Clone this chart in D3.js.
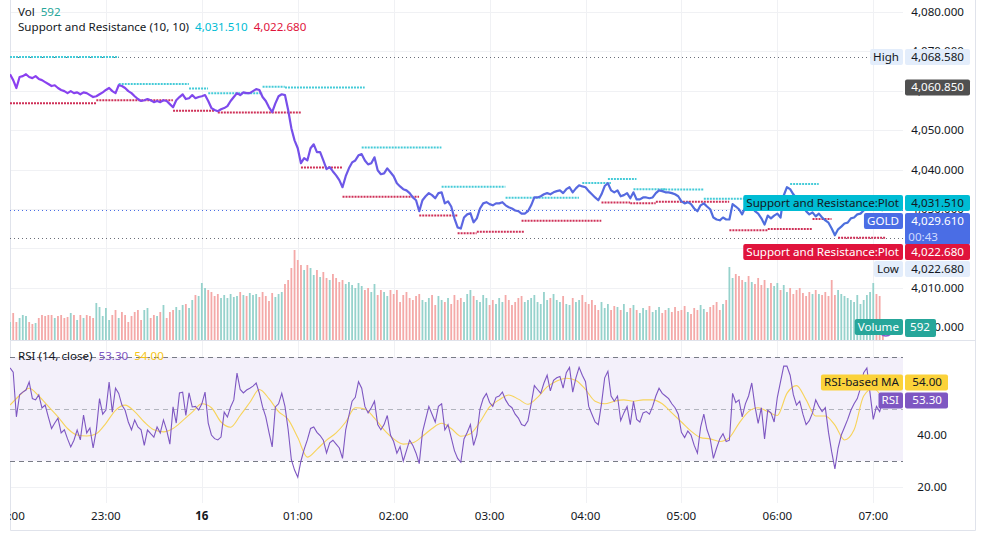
<!DOCTYPE html>
<html lang="en">
<head>
  <meta charset="UTF-8">
  <title>GOLD 2m</title>
  <script src="https://cdn.jsdelivr.net/npm/d3@7/dist/d3.min.js"></script>
  <style>
    body { margin: 0; background: #fff; }
    svg { display: block; font-family: 'Noto Sans', 'Liberation Sans', sans-serif; }
  </style>
</head>
<body>
  <svg id="chart" width="985" height="537"></svg>
  <script>
    // 2 minute bars starting 22:00
    const barMinutes = 2;

    const closes = [
      4064.2, 4062.7, 4060.7, 4063.5, 4063.7, 4064.2, 4063.5, 4063.2, 4063.7, 4063.0,
      4062.7, 4062.2, 4061.7, 4061.2, 4061.4, 4060.7, 4060.2, 4059.9, 4059.4, 4059.9,
      4059.4, 4059.6, 4059.1, 4059.6, 4059.4, 4058.9, 4058.4, 4058.6, 4059.1, 4059.6,
      4060.2, 4060.7, 4059.9, 4059.4, 4061.4, 4061.2, 4060.7, 4059.9, 4059.4, 4058.6,
      4057.9, 4057.4, 4057.6, 4057.9, 4057.6, 4057.1, 4057.4, 4057.1, 4057.6, 4057.4,
      4056.6, 4055.8, 4057.6, 4058.4, 4059.1, 4057.9, 4058.1, 4058.9, 4058.1, 4058.4,
      4058.6, 4058.9, 4057.4, 4055.6, 4055.1, 4054.8, 4055.3, 4055.6, 4056.1, 4057.4,
      4058.4, 4059.4, 4058.9, 4059.6, 4059.4, 4059.4, 4059.9, 4060.4, 4060.2, 4058.4,
      4057.4, 4055.8, 4054.6, 4056.8, 4058.6, 4059.1, 4058.9, 4055.1, 4050.5, 4047.4,
      4045.4, 4041.6, 4042.9, 4042.3, 4045.4, 4046.4, 4044.4, 4044.4, 4042.3, 4040.1,
      4040.6, 4039.5, 4038.5, 4037.3, 4035.5, 4038.3, 4040.3, 4041.8, 4042.3, 4043.6,
      4043.9, 4042.3, 4041.3, 4041.6, 4043.1, 4039.8, 4038.8, 4039.0, 4040.3, 4039.3,
      4038.3, 4036.5, 4035.7, 4035.0, 4034.7, 4034.0, 4032.9, 4032.2, 4029.4, 4032.2,
      4033.2, 4034.0, 4033.5, 4032.7, 4034.0, 4034.2, 4031.4, 4031.9, 4030.6, 4027.6,
      4025.3, 4025.0, 4027.8, 4028.6, 4028.9, 4026.6, 4027.6, 4030.1, 4031.4, 4031.7,
      4031.2, 4030.9, 4031.4, 4031.4, 4031.7, 4030.9, 4030.4, 4030.1, 4029.6, 4029.4,
      4028.8, 4028.8, 4029.4, 4030.9, 4032.9, 4032.9, 4033.2, 4033.7, 4034.0, 4033.7,
      4034.2, 4034.5, 4034.7, 4034.0, 4035.0, 4035.5, 4034.2, 4035.2, 4036.0, 4035.7,
      4035.5, 4034.5, 4033.7, 4032.9, 4032.2, 4033.7, 4035.8, 4036.5, 4034.7, 4034.2,
      4034.7, 4033.2, 4033.5, 4034.0, 4032.7, 4034.2, 4032.4, 4032.4, 4032.9, 4032.9,
      4032.7, 4032.9, 4034.0, 4034.7, 4034.5, 4034.2, 4034.2, 4034.0, 4033.7, 4033.2,
      4031.9, 4031.4, 4031.7, 4031.2, 4030.1, 4029.4, 4030.9, 4031.4, 4030.6, 4029.9,
      4027.8, 4027.3, 4027.1, 4027.8, 4027.3, 4027.3, 4031.2, 4030.6, 4029.9, 4028.6,
      4030.4, 4030.1, 4030.9, 4029.4, 4028.8, 4027.6, 4026.0, 4028.3, 4027.6, 4028.3,
      4028.8, 4027.8, 4033.4, 4035.5, 4035.0, 4033.7, 4032.7, 4031.4, 4030.6, 4029.4,
      4028.6, 4029.1, 4028.1, 4028.8, 4027.8, 4027.1, 4026.5, 4025.0, 4023.3, 4024.8,
      4025.5, 4026.3, 4026.5, 4027.6, 4027.8, 4028.6, 4028.8, 4029.6, 4030.4, 4030.9,
      4031.4, 4030.6, 4029.9, 4029.61
    ];

    const volumes = [
      540, 810, 540, 660, 750, 720, 540, 480, 510, 660,
      750, 720, 750, 750, 660, 720, 750, 660, 690, 810,
      750, 600, 750, 660, 750, 720, 660, 1110, 990, 720,
      960, 600, 750, 900, 660, 840, 750, 540, 720, 840,
      900, 600, 900, 960, 660, 750, 720, 840, 1050, 660,
      840, 900, 990, 900, 1050, 1080, 960, 1200, 1350, 1320,
      1710, 1560, 1500, 1440, 1320, 1380, 1260, 1350, 1260, 1380,
      1290, 1320, 1440, 1350, 1320, 1410, 1350, 1380, 1290, 1440,
      1320, 1170, 1410, 1290, 1380, 1440, 1680, 1800, 2160, 2700,
      2400, 2250, 2100, 2250, 2160, 1950, 2100, 1890, 2040, 1860,
      1800, 1980, 1860, 1740, 1800, 1680, 1740, 1650, 1560, 1710,
      1620, 1500, 1560, 1440, 1680, 1350, 1500, 1440, 1320, 1500,
      1380, 1500, 1140, 1350, 1440, 1260, 1200, 1320, 1380, 1200,
      1140, 1260, 1350, 1050, 1320, 1200, 1140, 1260, 1080, 1350,
      1200, 1260, 1140, 1380, 1500, 1320, 1200, 1140, 1350, 1260,
      1050, 1200, 1080, 1260, 1140, 1350, 1200, 1050, 1140, 1260,
      1320, 1140, 1200, 1260, 1350, 1140, 1080, 1440, 1200, 1260,
      1380, 1200, 1140, 1320, 1080, 1050, 1260, 1140, 1200, 1350,
      1140, 1080, 1200, 1050, 900, 1140, 960, 1080, 900, 1020,
      990, 900, 1080, 840, 960, 1050, 900, 810, 960, 900,
      1020, 840, 900, 990, 810, 900, 960, 840, 990, 870,
      900, 1020, 840, 780, 960, 900, 1050, 930, 840, 990,
      1050, 1140, 900, 1080, 1200, 2190, 1860, 1980, 1920, 1800,
      1740, 1920, 1740, 1680, 1860, 1650, 1800, 1560, 1710, 1620,
      1710, 1500, 1650, 1440, 1560, 1380, 1500, 1560, 1410, 1320,
      1440, 1380, 1500, 1380, 1350, 1440, 1320, 1800, 1350, 1500,
      1380, 1320, 1260, 1200, 1140, 1350, 1080, 1200, 1350, 1440,
      1710, 1380, 1320, 592
    ];

    const rsi = [
      65.8, 64.2, 47.0, 55.5, 56.5, 57.3, 60.4, 54.0, 53.5, 55.4,
      50.4, 51.5, 46.9, 42.5, 44.6, 46.5, 40.8, 42.0, 38.5, 35.4,
      38.0, 41.9, 38.1, 47.7, 40.8, 42.7, 35.0, 41.9, 54.0, 48.0,
      49.6, 60.4, 48.8, 58.0, 56.0, 51.5, 49.5, 45.0, 42.0, 45.8,
      43.1, 42.0, 36.0, 41.9, 40.5, 39.2, 43.1, 40.8, 45.8, 41.9,
      36.5, 50.8, 44.6, 56.2, 56.5, 47.5, 56.2, 50.8, 51.0, 49.6,
      52.0, 56.5, 44.6, 40.0, 38.6, 38.1, 39.2, 48.8, 46.9, 50.8,
      53.5, 63.8, 57.5, 56.2, 57.3, 58.0, 58.8, 60.0, 56.0, 50.8,
      47.0, 41.0, 35.4, 50.8, 52.0, 56.0, 51.0, 42.0, 30.5, 26.5,
      23.8, 30.0, 34.5, 38.1, 42.5, 43.1, 41.0, 39.8, 38.0, 33.1,
      37.0, 38.0, 36.5, 35.0, 31.0, 42.0, 47.5, 53.0, 54.5, 60.5,
      58.0, 51.0, 48.5, 50.5, 53.0, 44.0, 42.0, 44.0, 47.5, 40.0,
      37.5, 33.0, 35.5, 30.0, 34.0, 38.0, 36.0, 33.0, 29.0, 41.0,
      46.0, 51.0, 48.0, 45.0, 51.0, 52.0, 42.0, 44.0, 39.0, 34.0,
      31.0, 29.5, 38.5, 41.0, 44.0, 36.0, 40.0, 50.0, 54.0, 56.0,
      52.5, 51.0, 54.5, 55.0, 56.5, 53.5, 51.5, 50.5, 48.0, 46.5,
      44.0, 43.5, 45.5, 52.0, 59.0, 57.5, 56.0, 60.0, 63.0, 57.0,
      61.0, 62.0, 62.5, 58.0, 64.0, 66.0, 56.5, 62.0, 66.0, 63.0,
      60.5, 51.0, 48.0, 45.0, 44.0, 52.0, 62.0, 64.5, 55.0, 53.0,
      55.0, 45.5, 48.5, 51.0, 44.0, 53.0, 46.0, 45.0, 48.5, 49.0,
      48.0, 51.0, 55.0, 58.0, 56.0, 55.0, 54.0, 52.0, 50.5, 48.0,
      41.0, 39.0, 41.5, 40.0, 36.0, 33.0, 43.0, 48.0, 42.0, 38.5,
      31.0, 35.0, 38.5, 40.5, 37.5, 38.0, 56.0, 52.5, 53.5, 47.0,
      52.0, 55.0, 60.0, 51.0, 44.5, 50.5, 38.5, 49.5, 48.5, 45.0,
      54.5, 60.5, 66.5, 66.5, 63.0, 55.5, 51.5, 53.0, 48.0, 44.0,
      45.5, 48.5, 53.5, 51.0, 49.0, 50.5, 41.0, 33.5, 27.0, 35.0,
      40.0, 43.0, 46.0, 49.5, 52.0, 54.0, 58.0, 64.0, 65.8, 56.0,
      46.0, 51.0, 49.0, 53.3
    ];

    // RSI-based MA, read every 3rd bar
    const maStep = 3;
    const rsiMa = [
      51.5, 55.2, 58.0, 55.0, 51.0, 47.0, 42.5, 40.0, 39.6, 40.5,
      44.5, 49.5, 51.5, 49.0, 45.0, 42.0, 41.2, 42.5, 45.5, 48.8,
      52.0, 50.5, 45.0, 43.0, 47.5, 52.5, 57.5, 54.0, 49.0, 46.0,
      39.0, 31.5, 34.5, 38.0, 40.8, 45.0, 50.5, 50.0, 46.5, 42.0,
      38.5, 36.5, 37.0, 39.5, 42.5, 44.5, 42.5, 39.5, 40.5, 45.0,
      50.8, 53.5, 55.4, 53.8, 51.8, 54.5, 58.5, 60.8, 61.8, 61.0,
      57.5, 53.0, 52.0, 53.0, 53.5, 53.0, 53.5, 53.5, 52.0, 48.5,
      45.0, 41.5, 39.0, 38.5, 37.5, 39.0, 44.5, 49.0, 50.5, 49.0,
      47.5, 56.0, 59.0, 53.5, 47.3, 47.3, 43.8, 38.1, 42.0, 55.0,
      58.0, 54.0
    ];

    // [first bar, last bar, level]
    const resistance = [
      [0, 33, 4068.58], [34, 55, 4061.7], [56, 61, 4060.6], [62, 78, 4059.35],
      [79, 85, 4061.0], [86, 110, 4060.8], [110, 134, 4045.6], [135, 154, 4035.6],
      [155, 177, 4032.8], [179, 187, 4036.6], [187, 195, 4037.6], [195, 204, 4035.0],
      [204, 216, 4034.9], [217, 243, 4032.6], [244, 252, 4036.3], [253, 273, 4031.51]
    ];
    const support = [
      [0, 26, 4056.8], [27, 50, 4057.6], [51, 63, 4054.9], [65, 90, 4054.5],
      [91, 103, 4040.5], [104, 127, 4033.1], [128, 139, 4028.3], [140, 145, 4023.8],
      [146, 160, 4024.2], [160, 184, 4027.0], [185, 193, 4031.6], [194, 201, 4031.4],
      [202, 224, 4031.8], [225, 236, 4024.6], [237, 250, 4024.9], [251, 256, 4027.4],
      [259, 273, 4022.68]
    ];

    const priceTicks = [4000, 4010, 4020, 4030, 4040, 4050, 4060, 4070, 4080];
    const rsiTicks = [20, 40, 60];
    const rsiBands = [70, 50, 30];
    const high = 4068.58, low = 4022.68, lastMark = 4060.85;
    const countdown = '00:43';

    (() => {
      const svg = d3.select('#chart');
      const left = 10, right = 903, frameRight = 975, frameBottom = 530;
      const split = 340, rsiBottom = 503;
      const fs = 11.6;
      const fmtP = d3.format(',.3f'), fmtR = d3.format('.2f'), fmtV = d3.format('d');

      const t0 = new Date(2025, 9, 15, 22, 0);
      const barTime = i => new Date(t0.getTime() + i * barMinutes * 60000);
      const x = d3.scaleTime()
        .domain([t0, new Date(t0.getTime() + 558.6 * 60000)])
        .range([left, right]);
      const yP = d3.scaleLinear().domain([4000, 4080]).range([327, 12]);
      const yV = d3.scaleLinear().domain([0, 3000]).range([split, 240]);
      const yR = d3.scaleLinear().domain([20, 70]).range([487, 357]);

      const defs = svg.append('defs');
      defs.append('clipPath').attr('id', 'pricePane')
        .append('rect').attr('x', left).attr('y', 0).attr('width', right - left).attr('height', split);
      defs.append('clipPath').attr('id', 'rsiPane')
        .append('rect').attr('x', left).attr('y', split + 1).attr('width', right - left).attr('height', rsiBottom - split - 1);
      defs.append('clipPath').attr('id', 'timeAxis')
        .append('rect').attr('x', left).attr('y', rsiBottom).attr('width', frameRight - left).attr('height', 30);

      const grad = defs.append('linearGradient').attr('id', 'lineGrad')
        .attr('gradientUnits', 'userSpaceOnUse')
        .attr('x1', x(barTime(0))).attr('x2', x(barTime(closes.length - 1)))
        .attr('y1', 0).attr('y2', 0);
      grad.selectAll('stop')
        .data([[0, '#8c3ff0'], [0.3, '#7a4ceb'], [0.5, '#5d66e2'], [1, '#4a70dc']])
        .enter().append('stop')
        .attr('offset', d => d[0]).attr('stop-color', d => d[1]);

      // grid
      const hours = x.ticks(d3.timeHour.every(1));
      const grid = svg.append('g').attr('stroke', '#f0f1f4').attr('stroke-width', 1);
      grid.selectAll('.vg').data(hours).enter().append('line')
        .attr('x1', d => Math.round(x(d)) + 0.5).attr('x2', d => Math.round(x(d)) + 0.5)
        .attr('y1', 0).attr('y2', rsiBottom);
      grid.selectAll('.hg').data(priceTicks).enter().append('line')
        .attr('x1', left).attr('x2', right)
        .attr('y1', d => Math.round(yP(d)) + 0.5).attr('y2', d => Math.round(yP(d)) + 0.5);
      grid.selectAll('.rg').data(rsiTicks).enter().append('line')
        .attr('x1', left).attr('x2', right)
        .attr('y1', d => Math.round(yR(d)) + 0.5).attr('y2', d => Math.round(yR(d)) + 0.5);

      // frame + pane separator
      const frame = svg.append('g').attr('stroke', '#e0e3eb').attr('fill', 'none');
      frame.append('path').attr('d', `M${left + 0.5},0 V${frameBottom + 0.5} H${frameRight + 0.5} V0`);
      frame.append('line').attr('x1', left).attr('x2', frameRight)
        .attr('y1', split + 0.5).attr('y2', split + 0.5);

      // ---- price pane ----
      const price = svg.append('g').attr('clip-path', 'url(#pricePane)');

      price.selectAll('.vol').data(volumes).enter().append('rect')
        .attr('x', (d, i) => x(barTime(i)) - 0.9)
        .attr('width', 1.8)
        .attr('y', d => yV(d))
        .attr('height', d => yV(0) - yV(d))
        .attr('fill', (d, i) => (i > 0 && closes[i] < closes[i - 1]) ? '#f4a9a8' : '#96d2cc');

      // high / low / last price lines
      price.selectAll('.hl').data([high, low]).enter().append('line')
        .attr('x1', left).attr('x2', right)
        .attr('y1', d => Math.round(yP(d)) + 0.5).attr('y2', d => Math.round(yP(d)) + 0.5)
        .attr('stroke', '#6a6d78').attr('stroke-dasharray', '1 3');
      price.append('line')
        .attr('x1', left).attr('x2', right)
        .attr('y1', Math.round(yP(closes[closes.length - 1])) + 0.5)
        .attr('y2', Math.round(yP(closes[closes.length - 1])) + 0.5)
        .attr('stroke', '#4a6de5').attr('stroke-dasharray', '1 3');

      const seg = (data, color) => price.selectAll(null).data(data).enter().append('line')
        .attr('x1', d => x(barTime(d[0]))).attr('x2', d => x(barTime(d[1])) + 3)
        .attr('y1', d => yP(d[2])).attr('y2', d => yP(d[2]))
        .attr('stroke', color).attr('stroke-width', 2).attr('stroke-dasharray', '2 1');
      seg(resistance, '#45cbd8');
      seg(support, '#cf3158');

      const line = d3.line().x((d, i) => x(barTime(i))).y(d => yP(d));
      price.append('path').datum(closes)
        .attr('d', line).attr('fill', 'none')
        .attr('stroke', 'url(#lineGrad)').attr('stroke-width', 2.2).attr('stroke-linejoin', 'round');

      // marker ring near the last volume bar
      svg.append('circle').attr('cx', x(barTime(closes.length - 1)) + 3).attr('cy', 329).attr('r', 7)
        .attr('fill', 'none').attr('stroke', '#8e5bd0').attr('stroke-width', 1.5);

      // ---- rsi pane ----
      const rp = svg.append('g').attr('clip-path', 'url(#rsiPane)');
      rp.append('rect').attr('x', left).attr('width', right - left)
        .attr('y', yR(70)).attr('height', yR(30) - yR(70)).attr('fill', '#f3f0fa');
      rp.selectAll('.band').data(rsiBands).enter().append('line')
        .attr('x1', left).attr('x2', right)
        .attr('y1', d => Math.round(yR(d)) + 0.5).attr('y2', d => Math.round(yR(d)) + 0.5)
        .attr('stroke', d => d === 50 ? '#b2b5be' : '#787b86')
        .attr('stroke-dasharray', '5 4');
      rp.append('path').datum(rsiMa)
        .attr('d', d3.line().curve(d3.curveMonotoneX).x((d, i) => x(barTime(i * maStep))).y(d => yR(d)))
        .attr('fill', 'none').attr('stroke', '#f7d35a').attr('stroke-width', 1.1);
      rp.append('path').datum(rsi)
        .attr('d', d3.line().x((d, i) => x(barTime(i))).y(d => yR(d)))
        .attr('fill', 'none').attr('stroke', '#7e57c2').attr('stroke-width', 1.1);

      // ---- axes text ----
      const axisText = svg.append('g').attr('font-size', fs).attr('fill', '#131722');
      axisText.selectAll('.pt').data(priceTicks).enter().append('text')
        .attr('x', 964).attr('y', d => yP(d) + 4).attr('text-anchor', 'end')
        .text(d => fmtP(d));
      axisText.selectAll('.rt').data(rsiTicks).enter().append('text')
        .attr('x', 947).attr('y', d => yR(d) + 4).attr('text-anchor', 'end')
        .text(d => fmtR(d));
      svg.append('g').attr('clip-path', 'url(#timeAxis)')
        .selectAll('text').data(hours).enter().append('text')
        .attr('x', d => x(d)).attr('y', 520).attr('text-anchor', 'middle')
        .attr('font-size', fs).attr('fill', '#131722')
        .attr('font-weight', d => d.getHours() === 0 ? 'bold' : null)
        .text(d => d.getHours() === 0 ? d3.timeFormat('%-d')(d) : d3.timeFormat('%H:%M')(d));

      // ---- tags on the scale ----
      const tag = (yc, name, value, bg, fg, valueRight, h) => {
        h = h || 16;
        const g = svg.append('g').attr('font-size', fs);
        if (name) {
          const t = g.append('text').attr('x', 899).attr('y', yc + 4)
            .attr('text-anchor', 'end').attr('fill', fg).text(name);
          const w = t.node().getComputedTextLength() + 7;
          g.insert('rect', 'text').attr('x', right - w).attr('y', yc - 8)
            .attr('width', w).attr('height', 16).attr('rx', 2).attr('fill', bg);
        }
        g.append('rect').attr('x', 905).attr('y', yc - 8)
          .attr('width', (valueRight || 970) - 905).attr('height', h).attr('rx', 2).attr('fill', bg);
        g.append('text').attr('x', (valueRight || 970) - 6).attr('y', yc + 4)
          .attr('text-anchor', 'end').attr('fill', fg).text(value);
        return g;
      };

      const lastClose = closes[closes.length - 1];
      const resLast = resistance[resistance.length - 1][2];
      const supLast = support[support.length - 1][2];

      tag(yP(high), 'High', fmtP(high), '#e3edfb', '#131722');
      tag(yP(lastMark), null, fmtP(lastMark), '#505050', '#ffffff');
      const yRes = yP(resLast);
      tag(yRes, 'Support and Resistance:Plot', fmtP(resLast), '#00bcd4', '#131722');
      const yGold = yRes + 18;
      tag(yGold, 'GOLD', fmtP(lastClose), '#4a6de5', '#ffffff', 970, 32)
        .append('text').attr('x', 938).attr('y', yGold + 20).attr('text-anchor', 'end')
        .attr('fill', '#d0daff').text(countdown);
      const ySup = yGold + 31;
      tag(ySup, 'Support and Resistance:Plot', fmtP(supLast), '#e0143c', '#ffffff');
      tag(ySup + 17, 'Low', fmtP(low), '#e3edfb', '#131722');
      tag(327, 'Volume', fmtV(volumes[volumes.length - 1]), '#26a69a', '#ffffff', 936, 18);

      const rsiLast = rsi[rsi.length - 1], maLast = rsiMa[rsiMa.length - 1];
      tag(yR(rsiLast), 'RSI', fmtR(rsiLast), '#7e57c2', '#ffffff', 948);
      tag(yR(rsiLast) - 18, 'RSI-based MA', fmtR(maLast), '#fbd23a', '#131722', 948);

      // ---- legends ----
      const legend = (y, items) => {
        let cx = 18;
        items.forEach(([txt, color, gap]) => {
          const t = svg.append('text').attr('x', cx).attr('y', y + 4)
            .attr('font-size', fs).attr('fill', color).text(txt);
          cx += t.node().getComputedTextLength() + (gap || 6);
        });
      };
      legend(12, [['Vol', '#131722'], [fmtV(volumes[volumes.length - 1]), '#26a69a']]);
      legend(27, [['Support and Resistance (10, 10)', '#131722'],
        [fmtP(resLast), '#00bcd4'], [fmtP(supLast), '#e0143c']]);
      legend(356, [['RSI (14, close)', '#131722'], [fmtR(rsiLast), '#7e57c2'], [fmtR(maLast), '#f5c518']]);
    })();
  </script>
</body>
</html>
